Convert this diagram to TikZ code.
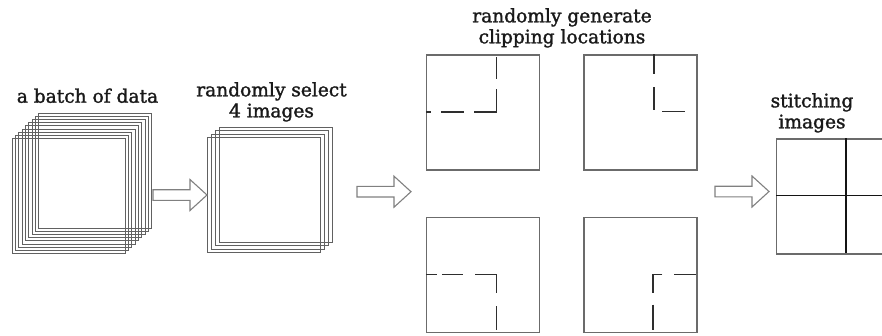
\documentclass[tikz,border=0pt]{standalone}
\usepackage{fontspec}
\setmainfont{DejaVu Serif}[FakeBold=1.6]
\begin{document}
\begin{tikzpicture}[x=1pt,y=-1pt,
  stackfr/.style={draw=black!62, line width=0.8pt, minimum width=113pt, minimum height=115pt, inner sep=0pt},
  frame/.style={draw=black!58, line width=1.1pt, minimum width=113pt, minimum height=115pt, inner sep=0pt},
  cut/.style={draw=black!82, line width=1.5pt, line cap=butt, line join=miter},
  divider/.style={draw=black!92, line width=1.4pt},
  arrowline/.style={draw=black!50, line width=1.1pt, fill=white},
  title/.style={font=\fontsize{18.6}{21}\selectfont, align=center, inner sep=0pt, anchor=base, text=black!90},
  blockarrow/.pic={\draw[arrowline] (0,-5.3) -- (37,-5.3) -- (37,-15.5) -- (54,0) -- (37,15.5) -- (37,5.3) -- (0,5.3) -- cycle;}
]
\clip (0,0) rectangle (882,335);

% stage 1: batch of data (nine stacked frames)
\foreach \i in {0,...,8}
  \node[stackfr] (batch\i) at ({68.7+3.3*\i},{196-3.2*\i}) {};
\node[title] (tbatch) at (87.5,102.7) {a batch of data};

% stage 2: four selected images
\foreach \i in {0,...,3}
  \node[stackfr] (sel\i) at ({263.7+4.2*\i},{195-3.5*\i}) {};
\node[title] (tsel) at (271.5,117.3) {randomly select\\4 images};

% stage 3: clipping locations
\node[frame] (tl) at (483,112.5) {};
\node[frame] (tr) at (640.5,112.5) {};
\node[frame] (bl) at (483,275) {};
\node[frame] (br) at (640.5,275) {};
\node[title] (tclip) at (562,43.3) {randomly generate\\clipping locations};

\begin{scope}[shift={(tl.north west)}]
  \draw[cut] (70.3,3) -- (70.3,25);
  \draw[cut] (48.3,57.3) -- (70.3,57.3) -- (70.3,35);
  \draw[cut] (0,57.3) -- (5.3,57.3);
  \draw[cut] (15.3,57.3) -- (38.3,57.3);
\end{scope}
\begin{scope}[shift={(tr.north west)}]
  \draw[cut] (70.7,0) -- (70.7,20);
  \draw[cut] (70.7,33) -- (70.7,55.7);
  \draw[cut] (78.7,57) -- (101.7,57);
\end{scope}
\begin{scope}[shift={(bl.north west)}]
  \draw[cut] (0,57.7) -- (11.3,57.7);
  \draw[cut] (16,57.7) -- (36.6,57.7);
  \draw[cut] (49.3,57.7) -- (70.3,57.7) -- (70.3,76);
  \draw[cut] (70.3,89.4) -- (70.3,112.7);
\end{scope}
\begin{scope}[shift={(br.north west)}]
  \draw[cut] (79,57.7) -- (69.7,57.7) -- (69.7,76);
  \draw[cut] (90.7,57.7) -- (112.4,57.7);
  \draw[cut] (69.7,87.7) -- (69.7,112.7);
\end{scope}

% stage 4: stitched result
\node[frame, minimum width=115pt, minimum height=115pt] (stitch) at (834.2,196.5) {};
\begin{scope}[shift={(stitch.north west)}]
  \draw[divider] (70,0) -- (70,115);
  \draw[divider] (0,57) -- (115,57);
\end{scope}
\node[title] (tstitch) at (812,128.3) {stitching\\images};

% block arrows between stages
\pic (arr1) at (153,195) {blockarrow};
\pic (arr2) at (357,191.7) {blockarrow};
\pic (arr3) at (715,191.5) {blockarrow};
\end{tikzpicture}
\end{document}
